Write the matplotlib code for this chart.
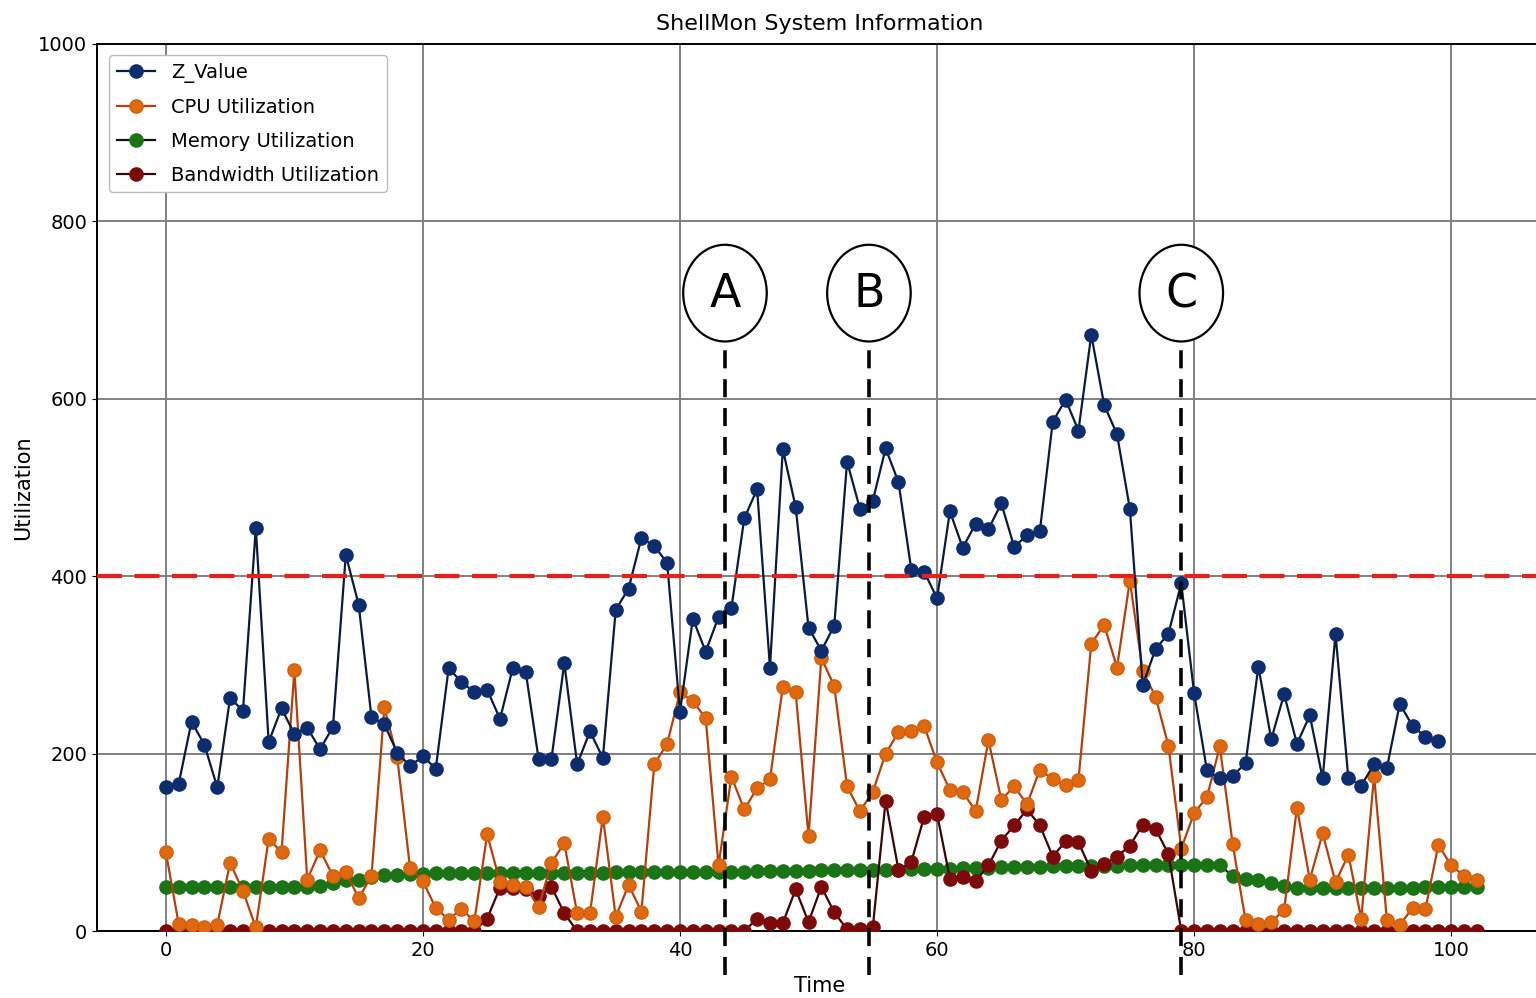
import matplotlib
matplotlib.use("Agg")
import matplotlib.pyplot as plt
from matplotlib.patches import Ellipse
import numpy as np

# z score per sample (t = 0..99)
z_value = [162, 166, 236, 210, 162, 263, 248, 454, 213, 251,
           222, 229, 205, 230, 424, 368, 241, 233, 201, 186,
           197, 183, 296, 281, 269, 272, 239, 297, 292, 194,
           194, 302, 188, 225, 195, 362, 386, 443, 434, 415,
           247, 352, 315, 354, 364, 465, 498, 297, 543, 478,
           342, 316, 344, 529, 476, 485, 544, 506, 407, 405,
           375, 473, 432, 459, 453, 482, 433, 446, 451, 574,
           599, 564, 672, 593, 560, 476, 277, 318, 335, 392,
           268, 181, 172, 175, 189, 298, 216, 267, 211, 243,
           172, 335, 172, 164, 188, 184, 256, 231, 219, 214]

# resource usage (t = 0..102)
cpu_util = [89, 8, 7, 5, 7, 77, 45, 4, 104, 89,
            294, 58, 91, 62, 67, 37, 62, 252, 196, 71,
            56, 26, 13, 25, 11, 109, 55, 52, 50, 27,
            77, 99, 20, 20, 129, 16, 52, 22, 188, 211,
            269, 259, 240, 74, 174, 137, 161, 171, 275, 269,
            107, 308, 276, 163, 135, 157, 200, 224, 225, 231,
            190, 159, 157, 135, 215, 148, 163, 143, 182, 171,
            165, 170, 324, 345, 297, 395, 293, 264, 209, 93,
            133, 151, 208, 98, 12, 8, 10, 24, 139, 58,
            110, 55, 86, 14, 175, 12, 7, 26, 25, 97,
            74, 62, 58]

mem_util = [50, 50, 50, 50, 50, 50, 50, 50, 50, 50,
            50, 50, 51, 54, 57, 58, 61, 63, 63, 64,
            64, 65, 65, 65, 65, 65, 65, 65, 65, 65,
            65, 65, 65, 65, 65, 66, 66, 66, 66, 66,
            66, 66, 66, 67, 67, 67, 68, 68, 68, 68,
            68, 69, 69, 69, 69, 69, 69, 69, 70, 70,
            70, 70, 71, 71, 71, 72, 72, 72, 72, 73,
            73, 73, 73, 73, 73, 74, 74, 74, 74, 74,
            74, 74, 74, 62, 59, 57, 54, 51, 49, 49,
            49, 49, 49, 49, 49, 49, 49, 49, 50, 50,
            50, 50, 50]

bw_util = [0] * 25 + [14, 49, 48, 47, 39, 50, 20] + [0] * 14 + \
          [14, 9, 9, 47, 10, 50, 21, 2, 2, 4,
           147, 69, 78, 129, 132, 59, 61, 56, 74, 102,
           119, 137, 119, 84, 101, 100, 68, 75, 84, 96,
           120, 115, 87, 0] + [0] * 23

threshold = 400
event_times = [43.5, 54.7, 79.0]
event_labels = ["A", "B", "C"]

t_z = np.arange(len(z_value))
t_res = np.arange(len(cpu_util))

fig = plt.figure(figsize=(15.36, 9.98), dpi=100)
ax = fig.add_axes([0.0632, 0.0671, 0.941, 0.889])

mk = dict(marker="o", markersize=9.5, linewidth=1.6)
ax.plot(t_z, z_value, color="#0a1a3a", markerfacecolor="#0d2d6e",
        markeredgecolor="#0d2d6e", label="Z_Value", zorder=5, **mk)
ax.plot(t_res, cpu_util, color="#b3400c", markerfacecolor="#e0680f",
        markeredgecolor="#d05f0e", label="CPU Utilization", zorder=4, **mk)
ax.plot(t_res, mem_util, color="#111111", markerfacecolor="#1a7314",
        markeredgecolor="#1a7314", label="Memory Utilization", zorder=3, **mk)
ax.plot(t_res, bw_util, color="#3a0505", markerfacecolor="#7d0a0a",
        markeredgecolor="#7d0a0a", label="Bandwidth Utilization", zorder=3, **mk)

ax.axhline(threshold, color="#e8201c", linewidth=3, dashes=(6, 3), zorder=6)

# marked events: dashed line with a circled letter on top
for t, lab in zip(event_times, event_labels):
    ax.plot([t, t], [-50, 661], color="black", linewidth=2.6, dashes=(5, 3),
            clip_on=False, zorder=7)
    ax.add_patch(Ellipse((t, 719), 6.5, 109, facecolor="white",
                         edgecolor="black", linewidth=1.6, zorder=8))
    ax.text(t, 717, lab, fontsize=33, ha="center", va="center", zorder=9)

ax.set_xlim(-5.35, 107.1)
ax.set_ylim(0, 1000)
ax.set_xticks([0, 20, 40, 60, 80, 100])
ax.set_yticks([0, 200, 400, 600, 800, 1000])
ax.tick_params(labelsize=14)
ax.grid(True, color="#808080", linewidth=1.4)
for s in ax.spines.values():
    s.set_linewidth(1.4)

ax.set_title("ShellMon System Information", fontsize=16, pad=10)
ax.set_xlabel("Time", fontsize=15, labelpad=12)
ax.set_ylabel("Utilization", fontsize=15, labelpad=4)

leg = ax.legend(loc="upper left", fontsize=14, handlelength=2.0,
                labelspacing=0.76, borderaxespad=0.6, framealpha=1)
leg.get_frame().set_edgecolor("#bbbbbb")

fig.savefig("out.png", dpi=100)
